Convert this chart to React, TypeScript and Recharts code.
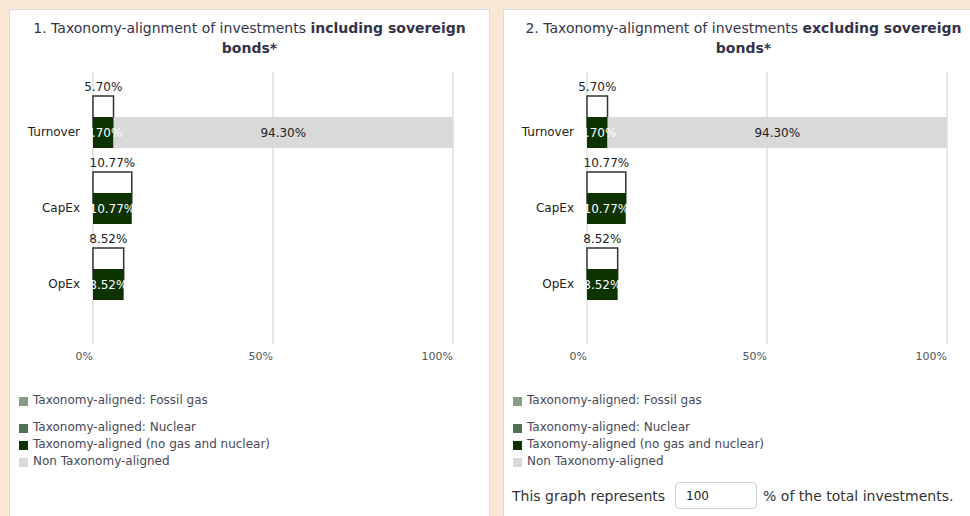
import React from 'react';
import { BarChart, Bar, XAxis, YAxis, CartesianGrid, LabelList } from 'recharts';

// values (both panels show the same figures)
const categories = ['Turnover', 'CapEx', 'OpEx'];
const fossilGas = [0, 0, 0];
const nuclear = [0, 0, 0];
const alignedOther = [5.7, 10.77, 8.52];
const nonAligned = [94.3, 0, 0];
const totalAligned = [5.7, 10.77, 8.52];
const xTicks = [0, 50, 100];

const seriesKeys = ['fossil', 'nuclear', 'aligned', 'non'];
const seriesNames = [
  'Taxonomy-aligned: Fossil gas',
  'Taxonomy-aligned: Nuclear',
  'Taxonomy-aligned (no gas and nuclear)',
  'Non Taxonomy-aligned',
];
const seriesColors = ['#879c84', '#4e7350', '#0c3300', '#d9d9d9'];

const data = categories.map((name, i) => ({
  name,
  fossil: fossilGas[i],
  nuclear: nuclear[i],
  aligned: alignedOther[i],
  non: nonAligned[i],
  total: totalAligned[i],
}));

const pct = (v: any) => (Number(v) ? `${Number(v).toFixed(2)}%` : '');

const Card: React.FC<{ left: number; lead: string; bold: string; children?: React.ReactNode }> = ({
  left,
  lead,
  bold,
  children,
}) => (
  <div
    style={{
      position: 'absolute',
      left,
      top: 9,
      width: 481,
      height: 530,
      boxSizing: 'border-box',
      border: '1px solid #dcdcdc',
      background: '#fff',
    }}
  >
    <div
      style={{
        position: 'absolute',
        left: 0,
        right: 0,
        top: 8,
        padding: '0 10px',
        textAlign: 'center',
        fontSize: 14,
        lineHeight: '20px',
        color: '#33334a',
      }}
    >
      {lead}
      <b>{bold}</b>
    </div>

    <div style={{ position: 'absolute', left: 0, top: 59 }}>
      <BarChart
        width={479}
        height={305}
        data={data}
        layout="vertical"
        barSize={31}
        barGap={-10}
        margin={{ top: 3, right: 36, bottom: 0, left: 0 }}
      >
        <CartesianGrid horizontal={false} stroke="#d0d0d0" />
        <XAxis
          type="number"
          domain={[0, 100]}
          ticks={xTicks}
          tickFormatter={(v) => `${v}%`}
          axisLine={false}
          tickLine={false}
          height={30}
          tick={{ fill: '#555', fontSize: 11, textAnchor: 'end' }}
        />
        <YAxis
          type="category"
          dataKey="name"
          width={83}
          axisLine={false}
          tickLine={false}
          tickMargin={7}
          padding={{ top: 22, bottom: 22 }}
          tick={{ fill: '#222', fontSize: 12 }}
        />
        <Bar
          dataKey="total"
          stackId="outline"
          fill="#fff"
          stroke="#333"
          strokeWidth={1.5}
          legendType="none"
          isAnimationActive={false}
        >
          <LabelList dataKey="total" position="top" offset={5} fill="#222" fontSize={12} formatter={pct} />
        </Bar>
        {seriesKeys.map((k, i) => (
          <Bar
            key={k}
            dataKey={k}
            name={seriesNames[i]}
            stackId="main"
            fill={seriesColors[i]}
            isAnimationActive={false}
          >
            {(k === 'aligned' || k === 'non') && (
              <LabelList
                dataKey={k}
                position="center"
                fill={k === 'aligned' ? '#fff' : '#222'}
                fontSize={12}
                formatter={pct}
              />
            )}
          </Bar>
        ))}
        {/* empty slot under the stack so the stack sits on the category centre */}
        <Bar dataKey="total" stackId="spacer" fill="none" legendType="none" isAnimationActive={false} />
      </BarChart>
    </div>

    <div style={{ position: 'absolute', left: 9, top: 381, fontSize: 12, color: '#484858' }}>
      {seriesNames.map((n, i) => (
        <div
          key={n}
          style={{ display: 'flex', alignItems: 'center', height: 17, marginBottom: i === 0 ? 10 : 0 }}
        >
          <span
            style={{ width: 9, height: 9, marginTop: 3, marginRight: 5, background: seriesColors[i], display: 'inline-block' }}
          />
          <span>{n}</span>
        </div>
      ))}
    </div>
    {children}
  </div>
);

export default function App() {
  return (
    <div
      style={{
        position: 'fixed',
        left: 0,
        top: 0,
        width: 970,
        height: 516,
        overflow: 'hidden',
        background: '#fae8d6',
        fontFamily: '"DejaVu Sans", sans-serif',
      }}
    >
      <Card left={9} lead="1. Taxonomy-alignment of investments " bold="including sovereign bonds*" />
      <Card left={503} lead="2. Taxonomy-alignment of investments " bold="excluding sovereign bonds*">
        <div
          style={{
            position: 'absolute',
            left: 8,
            top: 472,
            display: 'flex',
            alignItems: 'center',
            fontSize: 14,
            color: '#333',
            whiteSpace: 'nowrap',
          }}
        >
          <span>This graph represents</span>
          <input
            readOnly
            value="100"
            style={{
              width: 82,
              height: 27,
              boxSizing: 'border-box',
              margin: '0 6px 0 10px',
              padding: '0 10px',
              border: '1px solid #cfcfcf',
              borderRadius: 4,
              fontSize: 12,
              fontFamily: 'inherit',
              color: '#222',
            }}
          />
          <span>% of the total investments.</span>
        </div>
      </Card>
    </div>
  );
}
